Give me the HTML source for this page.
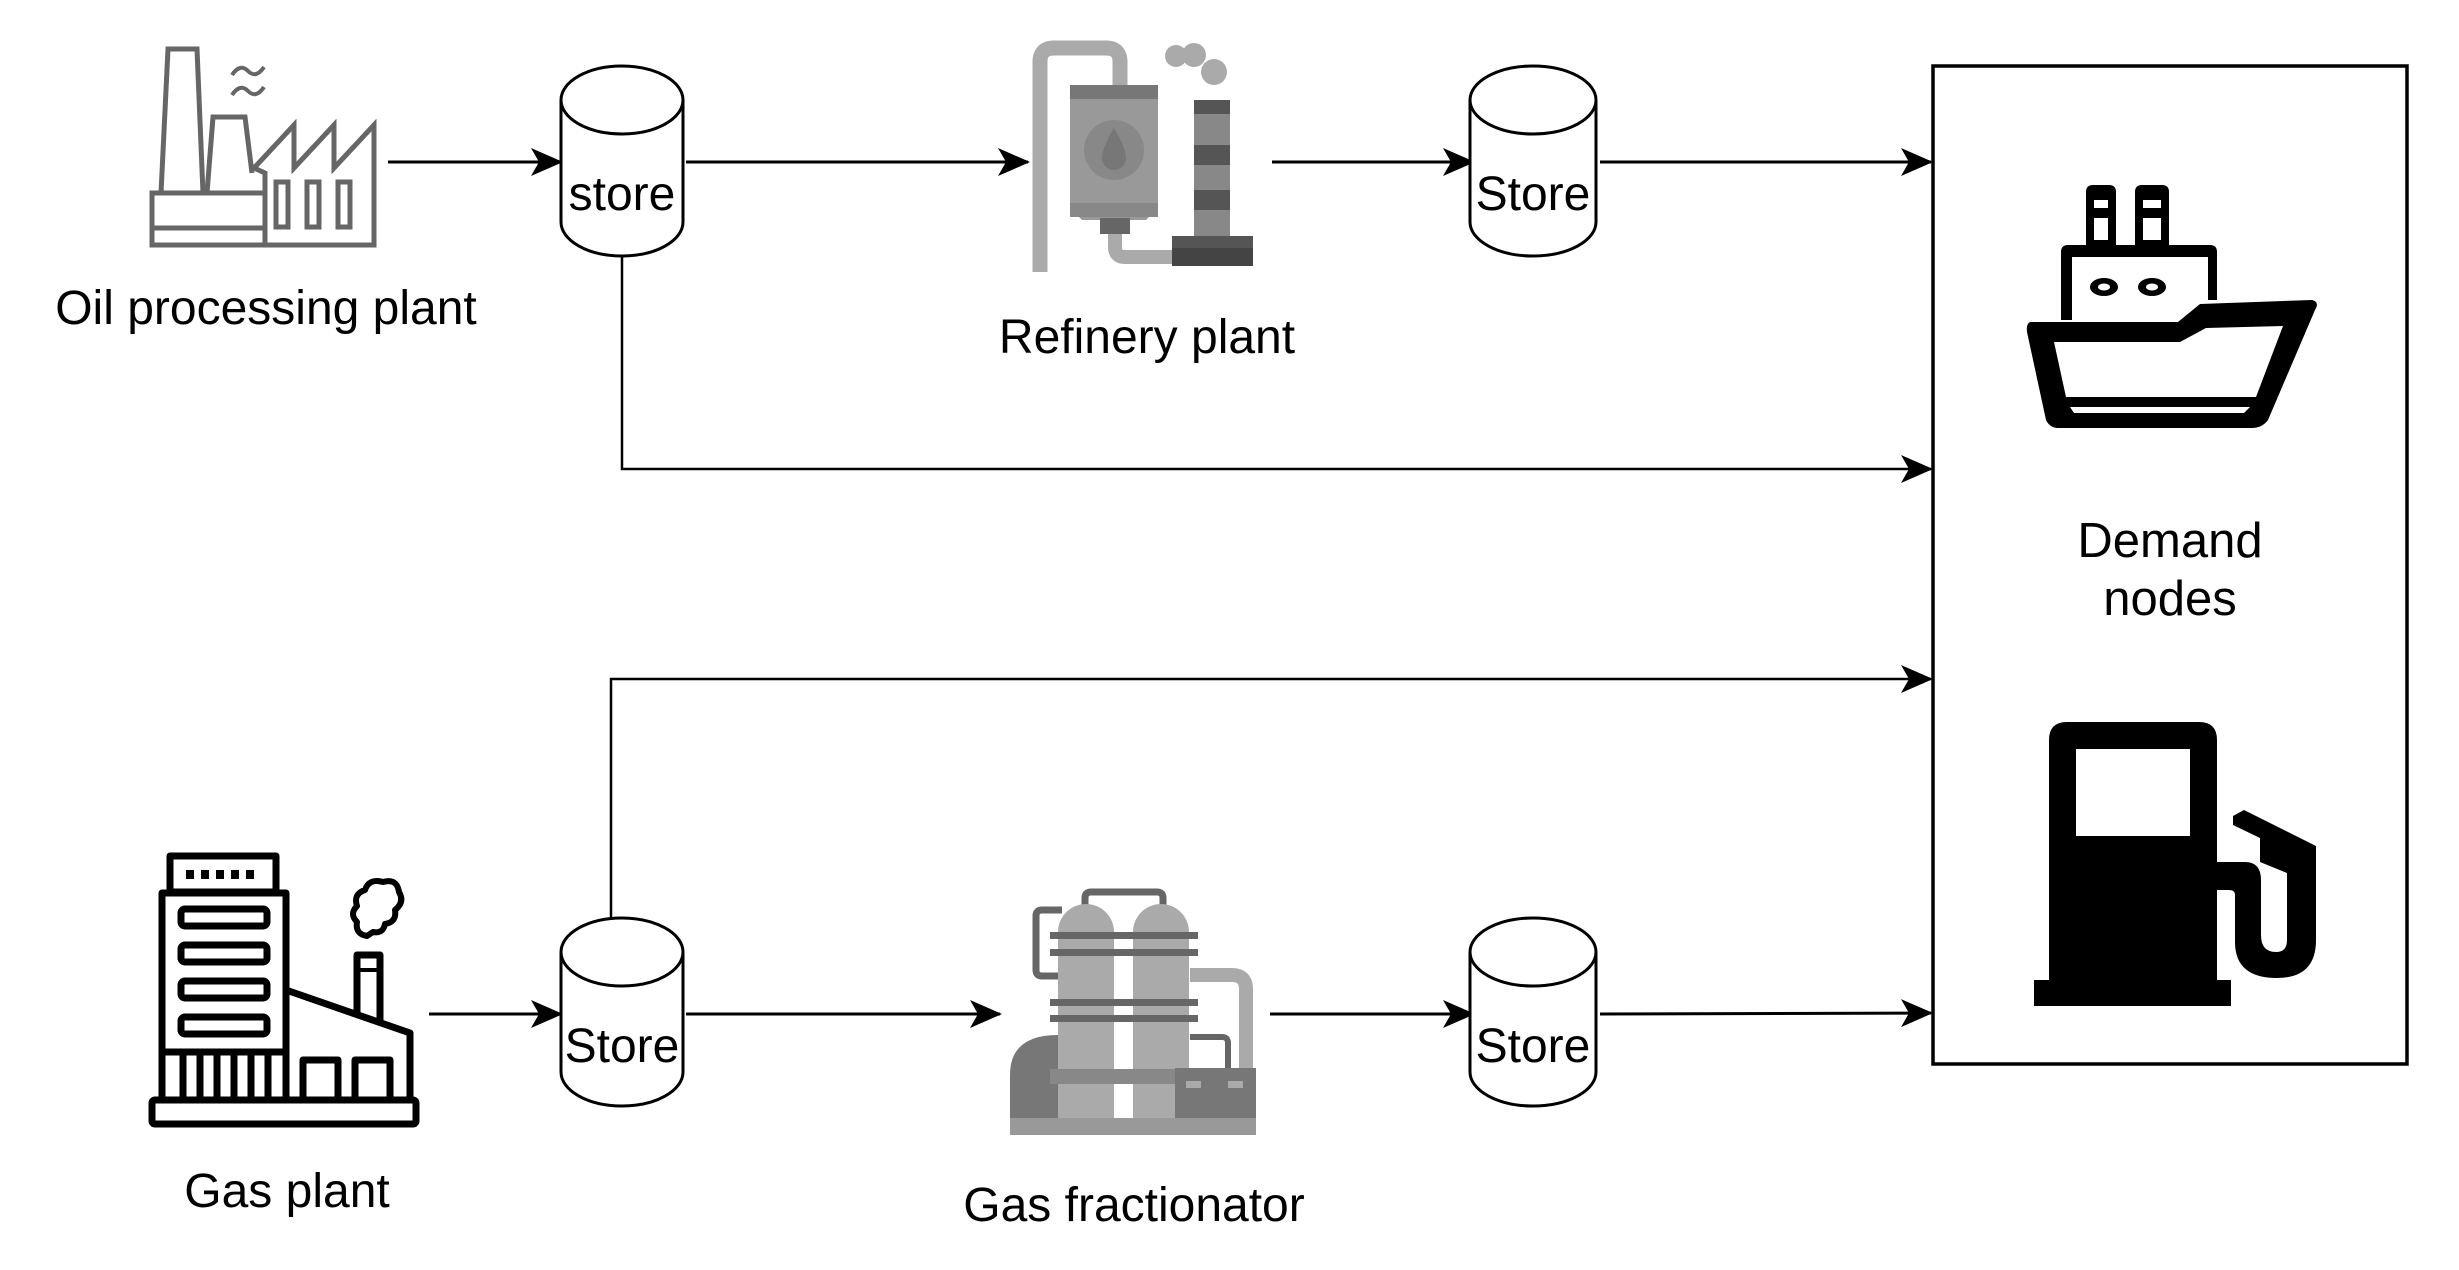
<!DOCTYPE html>
<html><head><meta charset="utf-8"><style>
html,body{margin:0;padding:0;background:#fff;}
svg{display:block;}
text{font-family:"Liberation Sans",sans-serif;fill:#000;}
</style></head><body>
<svg width="2459" height="1270" viewBox="0 0 2459 1270" xmlns="http://www.w3.org/2000/svg">
<defs>
<marker id="ar" markerWidth="32" markerHeight="30" refX="30" refY="15" orient="auto" markerUnits="userSpaceOnUse">
<path d="M0,1 L32,15 L0,29 L8,15 Z" fill="#000"/>
</marker>
</defs>
<rect width="2459" height="1270" fill="#fff"/>

<!-- connectors -->
<g stroke="#000" stroke-width="3" fill="none">
<line x1="388" y1="162" x2="561" y2="162" marker-end="url(#ar)"/>
<line x1="686" y1="162" x2="1028" y2="162" marker-end="url(#ar)"/>
<line x1="1272" y1="162" x2="1473" y2="162" marker-end="url(#ar)"/>
<line x1="1600" y1="162" x2="1931" y2="162" marker-end="url(#ar)"/>
<polyline points="622,257 622,469 1931,469" stroke-width="2.5" marker-end="url(#ar)"/>
<polyline points="611,920 611,679 1931,679" stroke-width="2.5" marker-end="url(#ar)"/>
<line x1="429" y1="1014" x2="561" y2="1014" marker-end="url(#ar)"/>
<line x1="686" y1="1014" x2="1000" y2="1014" marker-end="url(#ar)"/>
<line x1="1270" y1="1014" x2="1473" y2="1014" marker-end="url(#ar)"/>
<line x1="1600" y1="1014" x2="1931" y2="1013" marker-end="url(#ar)"/>
</g>

<!-- cylinders -->
<g stroke="#000" stroke-width="3" fill="#fff">
<path d="M561,100 A61,34 0 0 1 683,100 L683,222 A61,34 0 0 1 561,222 Z"/>
<path d="M561,100 A61,34 0 0 0 683,100"/>
<path d="M1470,100 A63,34 0 0 1 1596,100 L1596,222 A63,34 0 0 1 1470,222 Z"/>
<path d="M1470,100 A63,34 0 0 0 1596,100"/>
<path d="M561,952 A61,34 0 0 1 683,952 L683,1072 A61,34 0 0 1 561,1072 Z"/>
<path d="M561,952 A61,34 0 0 0 683,952"/>
<path d="M1470,952 A63,34 0 0 1 1596,952 L1596,1072 A63,34 0 0 1 1470,1072 Z"/>
<path d="M1470,952 A63,34 0 0 0 1596,952"/>
</g>
<g font-size="48" text-anchor="middle">
<text x="622" y="210">store</text>
<text x="1533" y="210">Store</text>
<text x="622" y="1062">Store</text>
<text x="1533" y="1062">Store</text>
</g>

<!-- demand box -->
<rect x="1933" y="66" width="474" height="998" fill="none" stroke="#000" stroke-width="3.5"/>
<g font-size="49" text-anchor="middle">
<text x="2170" y="557">Demand</text>
<text x="2170" y="615">nodes</text>
</g>

<!-- labels -->
<g font-size="48" text-anchor="middle">
<text x="266" y="324">Oil processing plant</text>
<text x="1147" y="353">Refinery plant</text>
<text x="287" y="1207">Gas plant</text>
<text x="1134" y="1221">Gas fractionator</text>
</g>

<!-- oil processing plant icon -->
<g stroke="#666" stroke-width="5" fill="none" stroke-linejoin="miter">
<polyline points="161,193 168,49 197,49 203,193"/>
<polyline points="207,193 213,117 245,117 252,173"/>
<rect x="152" y="193" width="113" height="52"/>
<line x1="152" y1="228" x2="265" y2="228"/>
<polyline points="265,245 374,245 374,125 334,168 334,125 294,168 294,125 254,168 265,173 265,245"/>
<rect x="276" y="182" width="12" height="45"/>
<rect x="307" y="182" width="12" height="45"/>
<rect x="338" y="182" width="12" height="45"/>
<path d="M232,75 q8,-12 16,-4 t16,-4 M232,95 q8,-12 16,-4 t16,-4" stroke-width="4"/>
</g>

<!-- refinery icon -->
<g>
<path d="M1040,272 L1040,62 Q1040,48 1054,48 L1106,48 Q1120,48 1120,62 L1120,86" stroke="#aaa" stroke-width="15" fill="none"/>
<path d="M1115,230 L1115,247 Q1115,257 1125,257 L1175,257" stroke="#aaa" stroke-width="14" fill="none"/>
<path d="M1082,85 L1146,85 L1158,98 L1158,208 L1146,220 L1082,220 L1070,208 L1070,98 Z" fill="#999"/>
<rect x="1070" y="85" width="88" height="14" fill="#777"/>
<rect x="1070" y="203" width="88" height="14" fill="#888"/>
<rect x="1100" y="218" width="30" height="16" fill="#666"/>
<circle cx="1114" cy="150" r="30" fill="#888"/>
<path d="M1114,128 Q1126,148 1126,158 A12,12 0 0 1 1102,158 Q1102,148 1114,128 Z" fill="#777"/>
<rect x="1194" y="100" width="36" height="136" fill="#888"/>
<rect x="1194" y="100" width="36" height="14" fill="#555"/>
<rect x="1194" y="145" width="36" height="20" fill="#555"/>
<rect x="1194" y="190" width="36" height="20" fill="#555"/>
<rect x="1172" y="236" width="81" height="30" fill="#444"/>
<rect x="1172" y="236" width="81" height="12" fill="#555"/>
<circle cx="1176" cy="56" r="11" fill="#aaa"/>
<circle cx="1194" cy="55" r="12" fill="#aaa"/>
<circle cx="1214" cy="72" r="13" fill="#aaa"/>
</g>

<!-- gas plant icon -->
<g stroke="#000" stroke-width="7" fill="none" stroke-linejoin="round">
<rect x="170" y="856" width="106" height="36"/>
<rect x="162" y="893" width="124" height="207"/>
<rect x="181" y="909" width="86" height="17" rx="4"/>
<rect x="181" y="945" width="86" height="17" rx="4"/>
<rect x="181" y="981" width="86" height="17" rx="4"/>
<rect x="181" y="1017" width="86" height="17" rx="4"/>
<line x1="162" y1="1052" x2="286" y2="1052"/>
<line x1="183" y1="1052" x2="183" y2="1100"/><line x1="200" y1="1052" x2="200" y2="1100"/>
<line x1="217" y1="1052" x2="217" y2="1100"/><line x1="234" y1="1052" x2="234" y2="1100"/>
<line x1="251" y1="1052" x2="251" y2="1100"/><line x1="268" y1="1052" x2="268" y2="1100"/>
<polyline points="286,990 410,1033 410,1100"/>
<polyline points="357,1015 357,955 380,955 380,1023"/>
<line x1="357" y1="970" x2="380" y2="970" stroke-width="4"/>
<polyline points="303,1100 303,1060 338,1060 338,1100"/>
<polyline points="355,1100 355,1060 390,1060 390,1100"/>
<rect x="152" y="1100" width="264" height="24" rx="3"/>
<path d="M367,936 q-12,-2 -10,-14 q-8,-8 0,-16 q-4,-12 8,-16 q4,-12 18,-8 q14,-4 16,10 q6,10 -4,18 q2,12 -10,14 q-2,10 -12,8 z" stroke-width="6"/>
</g>
<g fill="#000">
<rect x="186" y="870" width="8" height="9"/><rect x="201" y="870" width="8" height="9"/><rect x="216" y="870" width="8" height="9"/><rect x="231" y="870" width="8" height="9"/><rect x="246" y="870" width="8" height="9"/>
</g>

<!-- gas fractionator icon -->
<g>
<path d="M1085,905 L1085,898 Q1085,892 1091,892 L1157,892 Q1163,892 1163,898 L1163,905" stroke="#666" stroke-width="7" fill="none"/>
<path d="M1062,910 L1042,910 Q1036,910 1036,916 L1036,970 Q1036,976 1042,976 L1062,976" stroke="#666" stroke-width="7" fill="none"/>
<path d="M1010,1135 L1010,1075 Q1010,1035 1058,1035 L1058,1135 Z" fill="#777"/>
<path d="M1190,975 L1232,975 Q1246,975 1246,989 L1246,1070" stroke="#aaa" stroke-width="14" fill="none"/>
<path d="M1190,1037 L1222,1037 Q1228,1037 1228,1043 L1228,1070" stroke="#666" stroke-width="6" fill="none"/>
<path d="M1058,1120 L1058,932 A28,28 0 0 1 1114,932 L1114,1120 Z" fill="#aaa"/>
<path d="M1133,1120 L1133,932 A28,28 0 0 1 1189,932 L1189,1120 Z" fill="#aaa"/>
<g fill="#666">
<rect x="1050" y="932" width="148" height="7"/>
<rect x="1050" y="949" width="148" height="7"/>
<rect x="1050" y="999" width="148" height="7"/>
<rect x="1050" y="1015" width="148" height="7"/>
</g>
<rect x="1050" y="1069" width="125" height="15" fill="#888"/>
<rect x="1175" y="1068" width="81" height="52" fill="#777"/>
<rect x="1186" y="1081" width="15" height="7" fill="#aaa"/><rect x="1228" y="1081" width="15" height="7" fill="#aaa"/>
<rect x="1010" y="1118" width="246" height="17" fill="#999"/>
</g>

<!-- ship icon -->
<g fill="#000">
<path d="M2086,246 L2086,192 Q2086,185 2093,185 L2109,185 Q2116,185 2116,192 L2116,246 Z M2094,200 L2108,200 L2108,208 L2094,208 Z M2094,218 L2108,218 L2108,240 L2094,240 Z" fill-rule="evenodd"/>
<path d="M2135,246 L2135,192 Q2135,185 2142,185 L2162,185 Q2169,185 2169,192 L2169,246 Z M2143,200 L2161,200 L2161,208 L2143,208 Z M2143,218 L2161,218 L2161,240 L2143,240 Z" fill-rule="evenodd"/>
<path d="M2061,320 L2061,252 Q2061,245 2068,245 L2210,245 Q2217,245 2217,252 L2217,300 L2208,300 L2208,257 L2072,257 L2072,320 Z"/>
<ellipse cx="2104" cy="287" rx="14" ry="9"/><ellipse cx="2152" cy="287" rx="14" ry="9"/>
<ellipse cx="2104" cy="287" rx="6" ry="3.5" fill="#fff"/><ellipse cx="2152" cy="287" rx="6" ry="3.5" fill="#fff"/>
<path d="M2030,322 L2178,322 L2200,304 L2312,300 Q2320,302 2315,310 L2268,420 Q2262,428 2252,428 L2058,428 Q2050,428 2046,420 L2027,332 Q2026,324 2030,322 Z
M2054,342 L2180,342 L2206,328 L2283,326 L2256,397 L2066,397 Z M2070,407 L2250,407 L2244,413 L2074,413 Z" fill-rule="evenodd"/>
</g>

<!-- fuel pump icon -->
<g fill="#000">
<path d="M2049,1000 L2049,740 Q2049,722 2067,722 L2199,722 Q2217,722 2217,740 L2217,1000 Z M2076,749 L2190,749 L2190,836 L2076,836 Z" fill-rule="evenodd"/>
<rect x="2034" y="980" width="197" height="26"/>
<path d="M2217,862 L2245,862 Q2261,862 2261,880 L2261,935 Q2261,952 2276,952 Q2287,952 2287,940 L2287,873 L2260,862 L2260,838 L2233,825 L2233,816 L2244,810 L2316,846 L2316,940 Q2316,978 2277,978 Q2235,978 2235,942 L2235,895 Q2235,890 2229,890 L2217,890 Z"/>
</g>
</svg>
</body></html>
